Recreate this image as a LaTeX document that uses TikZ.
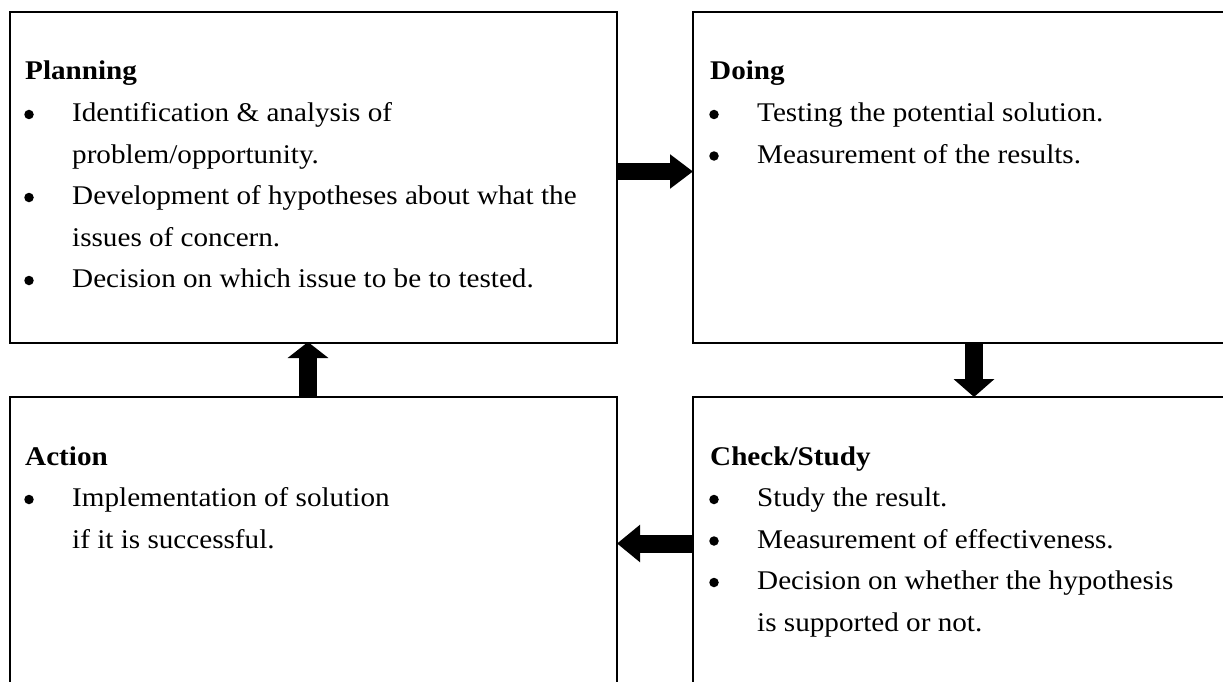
\documentclass[tikz,border=0pt]{standalone}
\usepackage{fontspec}
\setmainfont{Liberation Serif}[FakeStretch=1.08]
\usetikzlibrary{arrows.meta}
\begin{document}
\begin{tikzpicture}[x=1pt,y=-1pt,
  box/.style={draw, line width=2.5pt, rectangle, anchor=north west, inner sep=0pt, outer sep=0pt},
  ttl/.style={anchor=base west, inner sep=0pt, font=\fontsize{27}{30}\selectfont\bfseries},
  txt/.style={anchor=base west, inner sep=0pt, font=\fontsize{27}{30}\selectfont},
  dot/.style={circle, fill=black, inner sep=0pt, minimum size=9.5pt},
  blockarrow/.style={line width=#1}]
\useasboundingbox (0,0) rectangle (1223,682);
\clip (0,0) rectangle (1223,682);
% boxes
\node[box, minimum width=607pt, minimum height=331pt] (P) at (10,12) {};
\node[box, minimum width=560pt, minimum height=331pt] (D) at (693,12) {};
\node[box, minimum width=607pt, minimum height=320pt] (A) at (10,397) {};
\node[box, minimum width=560pt, minimum height=320pt] (C) at (693,397) {};
% Planning
\node[ttl] (Pt) at (25,80) {Planning};
\node[dot] (Pb1) at (29,114.5) {};
\node[txt] (P1) at (72,121.5) {Identification \& analysis of};
\node[txt] (P2) at (72,163) {problem/opportunity.};
\node[dot] (Pb2) at (29,197.5) {};
\node[txt] (P3) at (72,204.5) {Development of hypotheses about what the};
\node[txt] (P4) at (72,246) {issues of concern.};
\node[dot] (Pb3) at (29,280.5) {};
\node[txt] (P5) at (72,287.5) {Decision on which issue to be to tested.};
% Doing
\node[ttl] (Dt) at (710,80) {Doing};
\node[dot] (Db1) at (714,114.5) {};
\node[txt] (D1) at (757,121.5) {Testing the potential solution.};
\node[dot] (Db2) at (714,156) {};
\node[txt] (D2) at (757,163) {Measurement of the results.};
% Action
\node[ttl] (At) at (25,465) {Action};
\node[dot] (Ab1) at (29,499.5) {};
\node[txt] (A1) at (72,506.5) {Implementation of solution};
\node[txt] (A2) at (72,548) {if it is successful.};
% Check/Study
\node[ttl] (Ct) at (710,465) {Check/Study};
\node[dot] (Cb1) at (714,499.5) {};
\node[txt] (C1) at (757,506.5) {Study the result.};
\node[dot] (Cb2) at (714,541) {};
\node[txt] (C2) at (757,548) {Measurement of effectiveness.};
\node[dot] (Cb3) at (714,582.5) {};
\node[txt] (C3) at (757,589.5) {Decision on whether the hypothesis};
\node[txt] (C4) at (757,631) {is supported or not.};
% arrows
\coordinate (r1) at (617,171.5);
\coordinate (r2) at (693,171.5);
\draw[blockarrow=17pt, -{Triangle[width=33pt,length=23pt]}] (r1) -- (r2);
\coordinate (d1) at (974,343);
\coordinate (d2) at (974,397);
\draw[blockarrow=18pt, -{Triangle[width=40pt,length=18pt]}] (d1) -- (d2);
\coordinate (l1) at (693,543.5);
\coordinate (l2) at (617,543.5);
\draw[blockarrow=18pt, -{Triangle[width=36pt,length=23pt]}] (l1) -- (l2);
\coordinate (u1) at (308,397);
\coordinate (u2) at (308,342);
\draw[blockarrow=18pt, -{Triangle[width=40pt,length=16pt]}] (u1) -- (u2);
\end{tikzpicture}
\end{document}
